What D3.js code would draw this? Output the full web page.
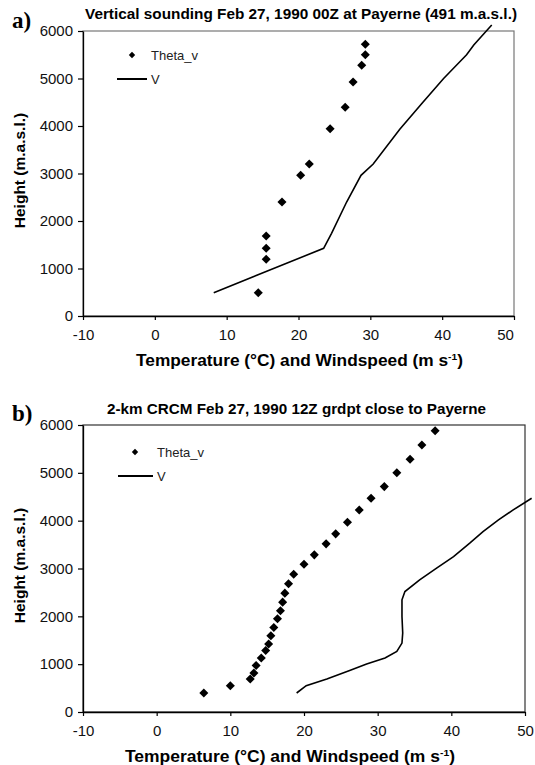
<!DOCTYPE html>
<html><head><meta charset="utf-8">
<script src="https://cdn.jsdelivr.net/npm/d3@7"></script>
<style>body{margin:0;background:#fff}svg{display:block}</style>
</head><body>
<svg id="c" width="535" height="765" font-family="'Liberation Sans',Arial,sans-serif"></svg>
<script>
// Panel a: radiosonde at Payerne
const thetaA_height = [491, 1193, 1425, 1684, 2400, 2962, 3200, 3944, 4393, 4926, 5277, 5502, 5720];
const thetaA_value  = [14.4, 15.5, 15.5, 15.5, 17.7, 20.3, 21.5, 24.4, 26.5, 27.6, 28.8, 29.3, 29.3];
const vA_height = [491, 1425, 1740, 2400, 2962, 3200, 3930, 4480, 5000, 5500, 5705, 6126];
const vA_value  = [8.2, 23.5, 24.6, 26.7, 28.7, 30.4, 34.1, 37.2, 40.2, 43.4, 44.4, 46.9];
// Panel b: 2-km CRCM grid point
const thetaB_height = [397, 550, 689, 814, 974, 1128, 1287, 1420, 1594, 1767, 1949, 2116, 2297, 2485, 2680, 2882, 3091, 3285, 3515, 3724, 3968, 4225, 4469, 4712, 5004, 5284, 5583, 5882];
const thetaB_value  = [6.4, 10.0, 12.7, 13.2, 13.5, 14.2, 14.8, 15.2, 15.5, 15.9, 16.4, 16.8, 17.1, 17.4, 17.9, 18.6, 20.0, 21.4, 23.0, 24.3, 25.9, 27.5, 29.1, 30.9, 32.6, 34.4, 36.0, 37.8];
const vB_height = [397, 550, 689, 869, 1002, 1128, 1266, 1441, 1650, 1997, 2345, 2519, 2763, 3007, 3250, 3529, 3772, 4016, 4225, 4469];
const vB_value  = [19.0, 20.3, 23.1, 26.2, 28.5, 31.0, 32.6, 33.3, 33.4, 33.3, 33.3, 33.7, 35.7, 38.0, 40.3, 42.5, 44.3, 46.4, 48.4, 50.9];

const xTicks = [-10, 0, 10, 20, 30, 40, 50];
const yTicks = [0, 1000, 2000, 3000, 4000, 5000, 6000];
const seriesNames = ["Theta_v", "V"];
const titles = ["Vertical sounding Feb 27, 1990 00Z at Payerne (491 m.a.s.l.)", "2-km CRCM Feb 27, 1990 12Z grdpt close to Payerne"];
const panelLabels = ["a)", "b)"];
const xTitle = "Temperature (°C) and Windspeed (m s";
const yTitle = "Height (m.a.s.l.)";

const svg = d3.select("#c");

function panel(o) {
  const x = d3.scaleLinear().domain([-10, 50]).range([o.left, o.right]);
  const y = d3.scaleLinear().domain([0, 6000]).range([o.bottom, o.top]);
  const g = svg.append("g");
  // frame
  g.append("rect").attr("x", o.left).attr("y", o.top).attr("width", o.right - o.left).attr("height", o.bottom - o.top)
    .attr("fill", "none").attr("stroke", o.frame).attr("stroke-width", 1.2);
  // axes
  const xa = g.append("g").attr("transform", `translate(0,${o.bottom})`)
    .call(d3.axisBottom(x).tickValues(xTicks).tickSize(4).tickSizeOuter(0).tickFormat(d => String(d)));
  const ya = g.append("g").attr("transform", `translate(${o.left},0)`)
    .call(d3.axisLeft(y).tickValues(yTicks).tickSize(5).tickSizeOuter(0).tickFormat(d => String(d)));
  [xa, ya].forEach(a => {
    a.attr("font-family", null);
    a.select(".domain").attr("stroke", "#000").attr("stroke-width", 1.3);
    a.selectAll(".tick line").attr("stroke", "#000").attr("stroke-width", 1.2);
    a.selectAll(".tick text").attr("font-size", 15).attr("fill", "#111");
  });
  xa.selectAll(".tick text").attr("y", 13);
  if (o.shift50) xa.selectAll(".tick text").filter(d => d === 50).attr("dx", -9);
  ya.selectAll(".tick text").attr("x", -10);

  // V line
  const line = d3.line().x(d => x(d[0])).y(d => y(d[1]));
  g.append("path").datum(d3.zip(o.vv, o.vh)).attr("d", line)
    .attr("fill", "none").attr("stroke", "#000").attr("stroke-width", 1.6);
  // Theta diamonds
  const dia = d3.symbol().type(d3.symbolDiamond2).size(52);
  g.selectAll("path.th").data(d3.zip(o.tv, o.th)).join("path").attr("class", "th")
    .attr("d", dia).attr("transform", d => `translate(${x(d[0])},${y(d[1])})`).attr("fill", "#000");

  // legend
  g.append("path").attr("d", d3.symbol().type(d3.symbolDiamond2).size(26)).attr("transform", `translate(${o.lgX},${o.lgY})`);
  g.append("text").attr("x", o.lgTx).attr("y", o.lgY + 5).attr("font-size", 13).attr("fill", "#222").text(seriesNames[0]);
  g.append("line").attr("x1", o.lgL1).attr("x2", o.lgL2).attr("y1", o.lgY + 24).attr("y2", o.lgY + 24).attr("stroke", "#000").attr("stroke-width", 2);
  g.append("text").attr("x", o.lgTx).attr("y", o.lgY + 29).attr("font-size", 13).attr("fill", "#222").text(seriesNames[1]);

  // titles
  g.append("text").attr("x", o.titleX).attr("y", o.titleY).attr("font-weight", "bold").attr("font-size", 14.8)
    .attr("textLength", o.titleW).attr("lengthAdjust", "spacingAndGlyphs").text(o.title);
  g.append("text").attr("x", 12).attr("y", o.labelY).attr("font-family", "'Liberation Serif','Times New Roman',serif").attr("font-weight", "bold").attr("font-size", 23).text(o.label);
  const xt = g.append("text").attr("x", o.xTitleX).attr("y", o.bottom + 50).attr("font-weight", "bold").attr("font-size", 16)
    .attr("textLength", o.xTitleW).attr("lengthAdjust", "spacingAndGlyphs");
  xt.append("tspan").text(xTitle);
  xt.append("tspan").attr("font-size", 9.5).attr("dy", -6).text("-1");
  xt.append("tspan").attr("dy", 6).text(")");
  g.append("text").attr("transform", `translate(25,${(o.top + o.bottom) / 2 - 3}) rotate(-90)`).attr("text-anchor", "middle").attr("font-weight", "bold").attr("font-size", 15.5).text(yTitle);
}

panel({left: 83, right: 514, top: 31, bottom: 316, frame: "#777", shift50: true,
  th: thetaA_height, tv: thetaA_value, vh: vA_height, vv: vA_value,
  lgX: 132, lgY: 55, lgTx: 151, lgL1: 117, lgL2: 147,
  title: titles[0], label: panelLabels[0], titleX: 85, titleW: 432, titleY: 19, labelY: 28,
  xTitleX: 136, xTitleW: 327});
panel({left: 83, right: 525, top: 425, bottom: 712, frame: "#333", shift50: false,
  th: thetaB_height, tv: thetaB_value, vh: vB_height, vv: vB_value,
  lgX: 135, lgY: 452, lgTx: 157, lgL1: 118, lgL2: 153,
  title: titles[1], label: panelLabels[1], titleX: 107, titleW: 379, titleY: 414, labelY: 421,
  xTitleX: 125, xTitleW: 330});
</script>
</body></html>
